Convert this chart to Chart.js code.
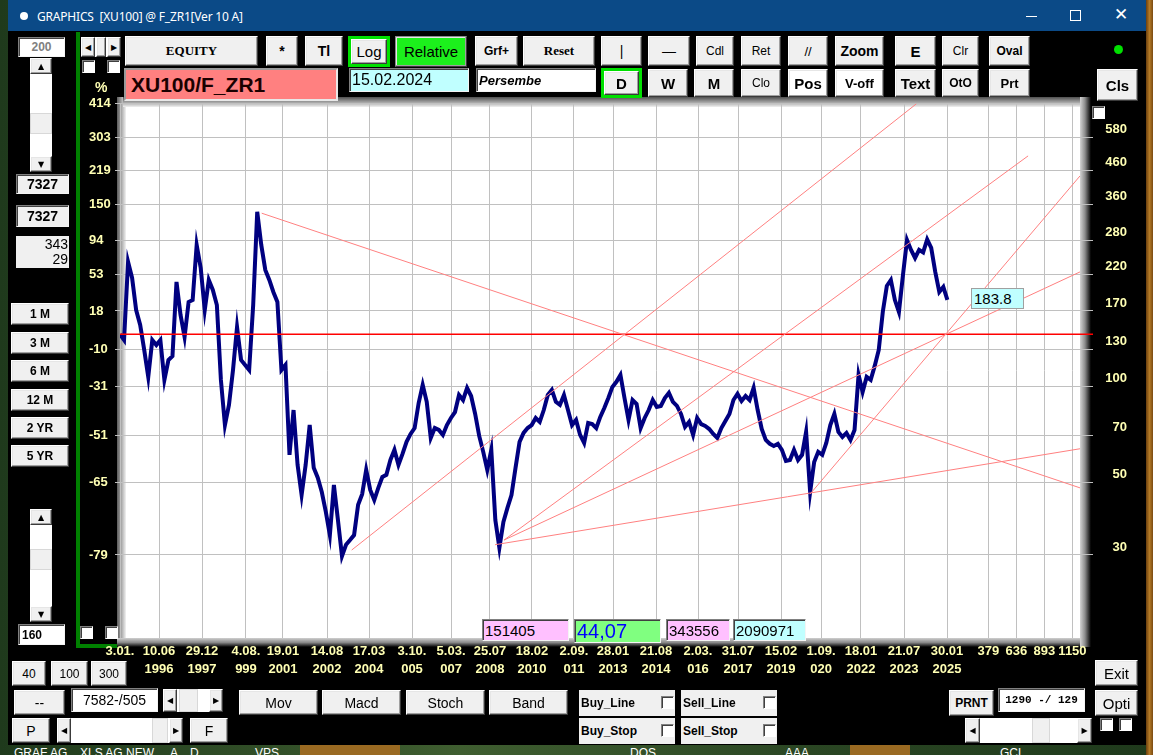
<!DOCTYPE html>
<html>
<head>
<meta charset="utf-8">
<title>GRAPHICS [XU100] @ F_ZR1</title>
<script src="https://cdn.jsdelivr.net/npm/chart.js@4.4.1/dist/chart.umd.min.js"></script>
<style>
  html, body { margin: 0; padding: 0; }
  body { position: relative; width: 1153px; height: 755px; overflow: hidden;
         background: linear-gradient(90deg, #1f3a1c, #3f5e30 40%, #2a4623 70%, #1f3a1c);
         font-family: "Liberation Sans", Arial, sans-serif; }
  .a { position: absolute; box-sizing: border-box; }
  .b { position: absolute; box-sizing: border-box; background: #f0f0f0; border: 1px solid;
       border-color: #fff #3a3a3a #3a3a3a #fff; box-shadow: inset -1px -1px 0 #a0a0a0, inset 1px 1px 0 #e6e6e6;
       display: flex; align-items: center; justify-content: center; font-size: 13px; font-weight: bold;
       color: #000; white-space: nowrap; }
  .n { font-weight: normal; }
  .s { font-family: "Liberation Serif", "Times New Roman", serif; }
  .k { position: absolute; box-sizing: border-box; background: #fff; border: 1px solid;
       border-color: #808080 #f4f4f4 #f4f4f4 #808080; box-shadow: inset 1px 1px 0 #404040;
       display: flex; align-items: center; white-space: nowrap; color: #000; }
  .c { position: absolute; box-sizing: border-box; width: 13px; height: 13px; background: #fff; border: 1px solid;
       border-color: #808080 #fff #fff #808080; box-shadow: inset 1px 1px 0 #404040; }
  .ar { font-size: 8px; font-weight: normal; font-family: "DejaVu Sans", sans-serif; }
  .yl { position: absolute; color: #ffffb4; font: bold 14px "Liberation Sans", Arial, sans-serif; }
  .dk { position: absolute; color: #fff; font-size: 12px; top: 746px; white-space: nowrap; }
</style>
</head>
<body>

<!-- desktop behind the window -->
<div class="a" style="left:1146px;top:0;width:7px;height:755px;background:linear-gradient(90deg,#6b3f0e,#b47a26,#7a4a12)"></div>
<div class="a" style="left:300px;top:744px;width:100px;height:11px;background:#9a6a22"></div>
<div class="a" style="left:850px;top:744px;width:60px;height:11px;background:#9a6a22"></div>
<div class="dk" style="left:14px">GRAF AG</div>
<div class="dk" style="left:80px">XLS AG NEW</div>
<div class="dk" style="left:170px">A</div>
<div class="dk" style="left:190px">D</div>
<div class="dk" style="left:255px">VPS</div>
<div class="dk" style="left:630px">DOS</div>
<div class="dk" style="left:785px">AAA</div>
<div class="dk" style="left:1000px">GCL</div>

<!-- window -->
<div class="a" style="left:8px;top:0;width:1138px;height:745px;background:#000"></div>
<div class="a" style="left:8px;top:0;width:1138px;height:31px;background:#0b4a87"></div>
<div class="a" style="left:20px;top:12px;width:8px;height:8px;border-radius:50%;background:#fff"></div>
<div class="a" style="left:37px;top:8px;color:#fff;font:12px 'Noto Sans','DejaVu Sans',sans-serif;white-space:pre;letter-spacing:-0.2px">GRAPHICS  [XU100] @ F_ZR1[Ver 10 A]</div>
<div class="a" style="left:1026px;top:16px;width:11px;height:1px;background:#fff"></div>
<div class="a" style="left:1070px;top:10px;width:11px;height:11px;border:1px solid #fff"></div>
<div class="a" style="left:1114px;top:4px;color:#fff;font:17px 'DejaVu Sans',sans-serif">✕</div>

<!-- green frame on the left of the plot -->
<div class="a" style="left:76px;top:32px;width:4px;height:616px;background:#008000"></div>
<div class="a" style="left:76px;top:644px;width:46px;height:4px;background:#008000"></div>

<!-- chart -->
<div class="a" style="left:80px;top:90px;width:1060px;height:600px">
  <canvas id="grafik" width="1060" height="600"></canvas>
</div>

<!-- top row -->
<div class="k" style="left:18px;top:37px;width:47px;height:20px;justify-content:center;color:#808080;font-weight:bold;font-size:12px">200</div>
<div class="a" style="left:81px;top:37px;width:40px;height:20px;background:#fff">
  <div class="b ar" style="left:0;top:0;width:14px;height:20px">◀</div>
  <div class="b" style="left:15px;top:0;width:10px;height:20px"></div>
  <div class="b ar" style="left:26px;top:0;width:14px;height:20px">▶</div>
</div>
<div class="c" style="left:82px;top:60px"></div>
<div class="c" style="left:107px;top:60px"></div>

<div class="b s" style="left:125px;top:36px;width:133px;height:30px;font-size:13px">EQUITY</div>
<div class="b" style="left:266px;top:36px;width:32px;height:30px;font-size:14px">*</div>
<div class="b" style="left:305px;top:36px;width:38px;height:30px;font-size:14px">Tl</div>
<div class="a" style="left:348px;top:36px;width:42px;height:31px;background:#00e000"></div>
<div class="b n" style="left:351px;top:39px;width:36px;height:25px;font-size:15px">Log</div>
<div class="b n" style="left:395px;top:36px;width:72px;height:31px;font-size:15px;background:#1cf01c;border-color:#8a8a8a #3a3a3a #3a3a3a #8a8a8a">Relative</div>
<div class="b" style="left:475px;top:36px;width:43px;height:30px;font-size:12px">Grf+</div>
<div class="b s" style="left:523px;top:36px;width:72px;height:30px;font-size:13px">Reset</div>
<div class="b n" style="left:601px;top:36px;width:41px;height:30px;font-size:14px">|</div>
<div class="b n" style="left:648px;top:36px;width:42px;height:30px;font-size:14px">—</div>
<div class="b n" style="left:696px;top:36px;width:38px;height:30px;font-size:12px">Cdl</div>
<div class="b n" style="left:741px;top:36px;width:40px;height:30px;font-size:12px">Ret</div>
<div class="b n" style="left:788px;top:36px;width:40px;height:30px;font-size:13px">//</div>
<div class="b" style="left:835px;top:36px;width:49px;height:30px;font-size:14px">Zoom</div>
<div class="b" style="left:895px;top:36px;width:41px;height:30px;font-size:15px">E</div>
<div class="b n" style="left:942px;top:36px;width:37px;height:30px;font-size:12px">Clr</div>
<div class="b" style="left:989px;top:36px;width:41px;height:30px;font-size:12px">Oval</div>
<div class="a" style="left:1114px;top:45px;width:9px;height:9px;border-radius:50%;background:#00e000"></div>

<!-- second row -->
<div class="k" style="left:124px;top:68px;width:214px;height:33px;background:#ff8080;padding-left:5px;font:bold 21px 'Liberation Sans',Arial,sans-serif;color:#1a0000;box-shadow:none;border:2px solid;border-color:#9a9a9a #e8e8e8 #e8e8e8 #9a9a9a">XU100/F_ZR1</div>
<div class="k" style="left:349px;top:68px;width:120px;height:24px;background:#c0ffff;padding-left:2px;font-size:16px">15.02.2024</div>
<div class="k" style="left:476px;top:68px;width:120px;height:24px;padding-left:2px;font:italic bold 13px 'Liberation Sans',Arial,sans-serif">Persembe</div>
<div class="a" style="left:601px;top:68px;width:41px;height:30px;background:#00e000"></div>
<div class="b" style="left:604px;top:71px;width:35px;height:24px;font-size:15px">D</div>
<div class="b" style="left:648px;top:69px;width:40px;height:28px;font-size:15px">W</div>
<div class="b" style="left:694px;top:69px;width:40px;height:28px;font-size:15px">M</div>
<div class="b n" style="left:741px;top:69px;width:40px;height:28px;font-size:12px">Clo</div>
<div class="b" style="left:788px;top:69px;width:40px;height:28px;font-size:15px;background:#fff">Pos</div>
<div class="b" style="left:835px;top:69px;width:49px;height:28px;font-size:13px;background:#fff">V-off</div>
<div class="b" style="left:895px;top:69px;width:41px;height:28px;font-size:15px">Text</div>
<div class="b" style="left:942px;top:69px;width:37px;height:28px;font-size:12px">OtO</div>
<div class="b" style="left:989px;top:69px;width:41px;height:28px;font-size:13px">Prt</div>
<div class="b" style="left:1097px;top:69px;width:41px;height:32px;font-size:15px">Cls</div>
<div class="c" style="left:1092px;top:106px"></div>

<!-- left panel -->
<div class="a" style="left:30px;top:58px;width:22px;height:114px;background:#fff">
  <div class="b ar" style="left:0;top:0;width:22px;height:16px">▲</div>
  <div class="b" style="left:0;top:55px;width:22px;height:21px;box-shadow:none;border-color:#d8d8d8"></div>
  <div class="b ar" style="left:0;top:98px;width:22px;height:16px">▼</div>
</div>
<div class="k" style="left:16px;top:174px;width:53px;height:20px;background:#f0f0f0;justify-content:center;font-weight:bold;font-size:14px">7327</div>
<div class="k" style="left:16px;top:205px;width:53px;height:22px;background:#f0f0f0;justify-content:center;font-weight:bold;font-size:14px">7327</div>
<div class="a" style="left:16px;top:236px;width:53px;height:32px;background:#f0f0f0;text-align:right;font-size:14px;line-height:15px;padding:1px 1px 0 0">343<br>29</div>
<div class="yl" style="left:95px;top:79px">%</div>
<div class="b" style="left:11px;top:303px;width:58px;height:22px;font-size:12px">1 M</div>
<div class="b" style="left:11px;top:332px;width:58px;height:22px;font-size:12px">3 M</div>
<div class="b" style="left:11px;top:360px;width:58px;height:22px;font-size:12px">6 M</div>
<div class="b" style="left:11px;top:389px;width:58px;height:22px;font-size:12px">12 M</div>
<div class="b" style="left:11px;top:417px;width:58px;height:22px;font-size:12px">2 YR</div>
<div class="b" style="left:11px;top:445px;width:58px;height:22px;font-size:12px">5 YR</div>
<div class="a" style="left:30px;top:509px;width:22px;height:113px;background:#fff">
  <div class="b ar" style="left:0;top:0;width:22px;height:16px">▲</div>
  <div class="b" style="left:0;top:40px;width:22px;height:21px;box-shadow:none;border-color:#d8d8d8"></div>
  <div class="b ar" style="left:0;top:97px;width:22px;height:16px">▼</div>
</div>
<div class="k" style="left:18px;top:624px;width:47px;height:21px;padding-left:3px;font-weight:bold;font-size:12px">160</div>
<div class="c" style="left:80px;top:626px"></div>
<div class="c" style="left:105px;top:626px"></div>

<!-- value boxes on the plot -->
<div class="k" style="left:482px;top:619px;width:87px;height:22px;background:#ffc0ff;padding-left:2px;font-size:15px">151405</div>
<div class="k" style="left:574px;top:619px;width:87px;height:24px;background:#80ff80;padding-left:2px;font-size:20px;color:#0000ff">44,07</div>
<div class="k" style="left:666px;top:619px;width:64px;height:22px;background:#ffc0ff;padding-left:2px;font-size:15px">343556</div>
<div class="k" style="left:733px;top:619px;width:73px;height:22px;background:#c0ffff;padding-left:2px;font-size:15px">2090971</div>
<div class="k" style="left:971px;top:288px;width:53px;height:21px;background:#c0ffff;padding-left:2px;font-size:15px;box-shadow:none;border-color:#a0a0a0">183.8</div>

<!-- bottom controls -->
<div class="b n" style="left:12px;top:661px;width:34px;height:25px;font-size:12px">40</div>
<div class="b n" style="left:51px;top:661px;width:37px;height:25px;font-size:12px">100</div>
<div class="b n" style="left:91px;top:661px;width:36px;height:25px;font-size:12px">300</div>
<div class="b n" style="left:14px;top:690px;width:51px;height:25px;font-size:14px">--</div>
<div class="k" style="left:71px;top:688px;width:87px;height:24px;justify-content:center;font-size:14px">7582-/505</div>
<div class="a" style="left:163px;top:689px;width:60px;height:23px;background:#fff">
  <div class="b ar" style="left:0;top:0;width:14px;height:23px">◀</div>
  <div class="b" style="left:16px;top:0;width:19px;height:23px;box-shadow:none;border-color:#d8d8d8"></div>
  <div class="b ar" style="left:46px;top:0;width:14px;height:23px">▶</div>
</div>
<div class="b n" style="left:239px;top:690px;width:79px;height:25px;font-size:14px">Mov</div>
<div class="b n" style="left:322px;top:690px;width:79px;height:25px;font-size:14px">Macd</div>
<div class="b n" style="left:406px;top:690px;width:79px;height:25px;font-size:14px">Stoch</div>
<div class="b n" style="left:489px;top:690px;width:79px;height:25px;font-size:14px">Band</div>
<div class="b" style="left:579px;top:690px;width:96px;height:26px;font-size:12px;justify-content:flex-start;padding-left:2px;box-shadow:none;border:none">Buy_Line</div>
<div class="c" style="left:661px;top:696px"></div>
<div class="b" style="left:681px;top:690px;width:96px;height:26px;font-size:12px;justify-content:flex-start;padding-left:2px;box-shadow:none;border:none">Sell_Line</div>
<div class="c" style="left:763px;top:696px"></div>
<div class="b" style="left:579px;top:718px;width:96px;height:26px;font-size:12px;justify-content:flex-start;padding-left:2px;box-shadow:none;border:none">Buy_Stop</div>
<div class="c" style="left:661px;top:724px"></div>
<div class="b" style="left:681px;top:718px;width:96px;height:26px;font-size:12px;justify-content:flex-start;padding-left:2px;box-shadow:none;border:none">Sell_Stop</div>
<div class="c" style="left:763px;top:724px"></div>
<div class="b n" style="left:12px;top:718px;width:38px;height:25px;font-size:14px">P</div>
<div class="a" style="left:57px;top:718px;width:126px;height:25px;background:#fff">
  <div class="b ar" style="left:0;top:0;width:14px;height:25px">◀</div>
  <div class="b" style="left:95px;top:0;width:16px;height:25px;box-shadow:none;border-color:#d8d8d8"></div>
  <div class="b ar" style="left:112px;top:0;width:14px;height:25px">▶</div>
</div>
<div class="b n" style="left:190px;top:718px;width:38px;height:25px;font-size:14px">F</div>
<div class="b" style="left:949px;top:690px;width:45px;height:26px;font-size:12px">PRNT</div>
<div class="k" style="left:998px;top:688px;width:87px;height:24px;justify-content:center;font:bold 11px 'Liberation Mono','DejaVu Sans Mono',monospace">1290 -/ 129</div>
<div class="b n" style="left:1095px;top:660px;width:43px;height:26px;font-size:15px">Exit</div>
<div class="b n" style="left:1095px;top:690px;width:43px;height:26px;font-size:15px">Opti</div>
<div class="a" style="left:965px;top:718px;width:127px;height:25px;background:#fff">
  <div class="b ar" style="left:0;top:0;width:15px;height:25px">◀</div>
  <div class="b" style="left:67px;top:0;width:18px;height:25px;box-shadow:none;border-color:#d8d8d8"></div>
  <div class="b ar" style="left:112px;top:0;width:15px;height:25px">▶</div>
</div>
<div class="c" style="left:1100px;top:718px"></div>
<div class="c" style="left:1119px;top:718px"></div>

<script>
// ratio XU100 / F_ZR1, one sample every 37 bars
const barStep = 37;
const basePrice = 144;          // value at the first bar = 0 %
const xEnd = 8801;              // last bar of the visible window
const yLow = 16.8;
const yHigh = 740.16;

const pctTicks = [414, 303, 219, 150, 94, 53, 18, -10, -31, -51, -65, -79];
const priceLabels = [580, 460, 360, 280, 220, 170, 130, 100, 70, 50, 30];

const dateBars = [0, 358, 752, 1155, 1494, 1898, 2283, 2677, 3035, 3392, 3777, 4162, 4520,
                  4914, 5299, 5666, 6060, 6427, 6793, 7188, 7582, 7961, 8218, 8475, 8732];
const dateDays = ["3.01.", "10.06", "29.12", "4.08.", "19.01", "14.08", "17.03", "3.10.", "5.03.",
                  "25.07", "18.02", "2.09.", "28.01", "21.08", "2.03.", "31.07", "15.02", "1.09.",
                  "18.01", "21.07", "30.01", "379", "636", "893", "1150"];
const dateYears = ["", "1996", "1997", "999", "2001", "2002", "2004", "005", "007", "2008", "2010",
                   "011", "2013", "2014", "016", "2017", "2019", "020", "2022", "2023", "2025",
                   "", "", "", ""];

const ratio = [
  144.0, 138.4, 240.4, 214.6, 171.1, 153.9, 129.0, 106.6, 138.4, 133.6,
  138.4, 104.3, 120.1, 123.5, 208.7, 165.2, 141.4, 181.1, 183.6, 271.2,
  230.4, 171.1, 211.6, 197.2, 177.3, 104.3, 75.8, 87.4, 111.9, 151.7,
  120.1, 116.0, 111.9, 177.3, 342.6, 271.2, 227.2, 211.6, 194.4, 181.1,
  111.9, 116.0, 61.4, 84.3, 57.2, 46.2, 57.2, 75.8, 56.0, 52.2,
  47.2, 41.0, 34.8, 49.6, 38.7, 30.0, 32.5, 33.6, 34.8, 43.1,
  46.5, 55.2, 47.9, 44.6, 48.6, 52.5, 53.3, 59.2, 63.6, 57.2,
  61.8, 67.3, 71.2, 74.2, 88.6, 100.7, 89.3, 69.2, 74.2, 73.2,
  70.7, 75.8, 79.7, 83.1, 93.8, 90.5, 98.6, 93.1, 82.0, 70.2,
  62.7, 55.2, 63.6, 38.7, 31.8, 38.2, 42.2, 46.2, 56.0, 67.3,
  71.7, 74.2, 75.8, 79.7, 77.5, 84.3, 93.8, 97.2, 89.3, 87.4,
  93.8, 84.3, 75.8, 78.6, 70.7, 66.8, 76.9, 76.3, 74.2, 80.3,
  85.5, 91.8, 99.3, 102.9, 108.1, 91.8, 78.6, 90.5, 88.0, 74.2,
  79.7, 84.3, 90.5, 86.2, 86.8, 91.8, 95.2, 89.3, 86.8, 82.0,
  74.8, 77.5, 70.7, 79.7, 76.3, 75.3, 73.7, 71.2, 69.2, 74.2,
  78.0, 82.0, 90.5, 94.5, 89.9, 93.1, 90.5, 98.6, 84.3, 73.7,
  68.2, 66.4, 65.4, 66.4, 63.6, 58.8, 59.2, 63.6, 59.2, 61.4,
  72.2, 47.2, 58.4, 62.7, 61.4, 66.8, 75.8, 82.0, 72.2, 69.7,
  71.7, 68.2, 73.2, 108.1, 95.8, 106.6, 104.3, 115.2, 129.0, 168.7,
  202.9, 211.6, 183.6, 168.7, 219.2, 280.9, 261.8, 247.3, 261.8, 257.1,
  282.0, 265.6, 224.0, 194.4, 201.5, 183.8
];

// hand drawn trend lines: [bar, ratio] at both ends
const trendFrom = [[1299, 339.4], [2124, 31.3], [3521, 33.6], [3521, 33.6], [3438, 32.5], [6326, 46.5]];
const trendTo = [[8801, 48.6], [7300, 735.4], [8325, 509.0], [8801, 224.0], [8801, 64.1], [8801, 441.8]];

const tickFont = { family: "'Liberation Sans', Arial, sans-serif", size: 13, weight: "bold" };
const tickColor = "#ffffb4";

// white plot with the grey raised frame around it
const plotFrame = {
  id: "plotFrame",
  beforeDraw(chart) {
    const { ctx, chartArea: a } = chart;
    const h = a.bottom - a.top;
    ctx.save();
    ctx.fillStyle = "#fff";
    ctx.fillRect(a.left, a.top, a.right - a.left, h);
    let g = ctx.createLinearGradient(a.left - 3, 0, a.left + 6, 0);
    g.addColorStop(0, "#5c5c5c");
    g.addColorStop(0.5, "#a8a8a8");
    g.addColorStop(1, "#f2f2f2");
    ctx.fillStyle = g;
    ctx.fillRect(a.left - 3, a.top - 6, 9, h + 12);
    g = ctx.createLinearGradient(0, a.top - 6, 0, a.top + 4);
    g.addColorStop(0, "#505050");
    g.addColorStop(0.6, "#b0b0b0");
    g.addColorStop(1, "#f0f0f0");
    ctx.fillStyle = g;
    ctx.fillRect(a.left + 3, a.top - 6, a.right - a.left, 10);
    g = ctx.createLinearGradient(a.right, 0, a.right + 11, 0);
    g.addColorStop(0, "#d4d4d4");
    g.addColorStop(0.45, "#8c8c8c");
    g.addColorStop(1, "#000");
    ctx.fillStyle = g;
    ctx.fillRect(a.right, a.top - 6, 11, h + 15);
    g = ctx.createLinearGradient(0, a.bottom, 0, a.bottom + 9);
    g.addColorStop(0, "#cfcfcf");
    g.addColorStop(0.5, "#8a8a8a");
    g.addColorStop(1, "#000");
    ctx.fillStyle = g;
    ctx.fillRect(a.left - 3, a.bottom, a.right - a.left + 3, 9);
    ctx.restore();
  }
};

const trendSets = trendFrom.map((p, k) => ({
  data: [{ x: p[0], y: p[1] }, { x: trendTo[k][0], y: trendTo[k][1] }],
  borderColor: "#ff8080",
  borderWidth: 1,
  pointRadius: 0,
  yAxisID: "y"
}));

const grafik = new Chart(document.getElementById("grafik").getContext("2d"), {
  type: "line",
  data: {
    datasets: [
      ...trendSets,
      {
        data: [{ x: 0, y: basePrice }, { x: xEnd + 130, y: basePrice }],
        borderColor: "#ff0000",
        borderWidth: 1.5,
        pointRadius: 0,
        clip: { left: 0, top: 0, right: 13, bottom: 0 },
        yAxisID: "y"
      },
      {
        data: ratio.map((v, i) => ({ x: i * barStep, y: v })),
        borderColor: "#000080",
        borderWidth: 4,
        pointRadius: 0,
        tension: 0,
        yAxisID: "y"
      }
    ]
  },
  options: {
    responsive: false,
    animation: false,
    events: [],
    layout: { padding: { left: 9, top: 13, right: 13, bottom: 0 } },
    plugins: { legend: { display: false }, tooltip: { enabled: false } },
    scales: {
      x: {
        type: "linear",
        min: 0,
        max: xEnd,
        afterBuildTicks: (s) => { s.ticks = dateBars.map(v => ({ value: v })); },
        afterFit: (s) => { s.height = 52; },
        grid: { color: "#c0c0c0", drawTicks: false },
        border: { display: false },
        ticks: {
          autoSkip: false,
          maxRotation: 0,
          padding: 5,
          color: tickColor,
          font: { ...tickFont, lineHeight: 1.35 },
          callback: (v, i) => [dateDays[i], dateYears[i]]
        }
      },
      y: {
        type: "logarithmic",
        position: "left",
        min: yLow,
        max: yHigh,
        afterBuildTicks: (s) => { s.ticks = pctTicks.map(p => ({ value: basePrice * (1 + p / 100) })); },
        afterFit: (s) => { s.width = 31; },
        grid: { color: "#c0c0c0", tickLength: 5 },
        border: { display: false },
        ticks: {
          autoSkip: false,
          crossAlign: "far",
          padding: 2,
          color: tickColor,
          font: tickFont,
          callback: (v, i) => String(pctTicks[i])
        }
      },
      y2: {
        type: "logarithmic",
        position: "right",
        min: yLow,
        max: yHigh,
        afterBuildTicks: (s) => { s.ticks = pctTicks.slice(1).map(p => ({ value: basePrice * (1 + p / 100) })); },
        afterFit: (s) => { s.width = 47; },
        grid: { color: "#c0c0c0", drawOnChartArea: false, tickLength: 13 },
        border: { display: false },
        ticks: {
          autoSkip: false,
          crossAlign: "far",
          padding: 0,
          labelOffset: -8,
          color: tickColor,
          font: tickFont,
          callback: (v, i) => String(priceLabels[i])
        }
      }
    }
  },
  plugins: [plotFrame]
});
</script>
</body>
</html>
